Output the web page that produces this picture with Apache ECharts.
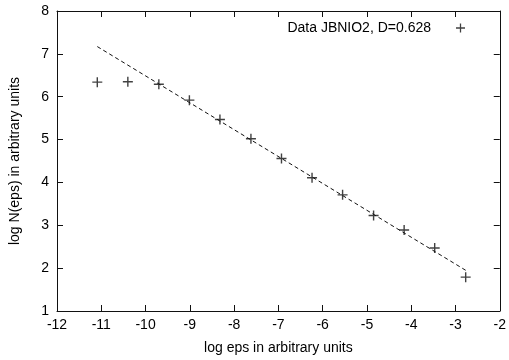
<!DOCTYPE html>
<html>
<head>
<meta charset="utf-8">
<script src="https://cdn.jsdelivr.net/npm/echarts@6/dist/echarts.min.js"></script>
<style>
  html, body { margin: 0; padding: 0; background: #fff; }
  #main { width: 509px; height: 360px; }
</style>
</head>
<body>
<div id="main"></div>
<script>
// log eps values (eps halving each step) and measured log N(eps)
var logEps = [-11.09, -10.40, -9.70, -9.01, -8.32, -7.62, -6.93, -6.24, -5.55, -4.85, -4.16, -3.47, -2.77];
var logN   = [6.34, 6.35, 6.29, 5.92, 5.47, 5.02, 4.56, 4.11, 3.71, 3.23, 2.89, 2.47, 1.79];
// fitted line, slope -0.628
var fitX = [-11.09, -2.77];
var fitY = [7.17, 1.95];
var legendName = 'Data JBNIO2, D=0.628';

var font = 'Liberation Sans, Arial, sans-serif';
var ink = '#111';
var plus = 'path://M4.3,0h1.4v10h-1.4z M0,4.3h10v1.4h-10z';

var myChart = echarts.init(document.getElementById('main'));

function axisBase(extra) {
  var a = {
    type: 'value',
    interval: 1,
    axisLine: { show: true, lineStyle: { color: ink, width: 1 } },
    axisTick: { show: true, inside: true, length: 6, lineStyle: { color: ink } },
    splitLine: { show: false },
    axisLabel: { color: '#000', fontFamily: font, fontSize: 14 }
  };
  for (var k in extra) a[k] = extra[k];
  return a;
}

myChart.setOption({
  animation: false,
  backgroundColor: '#fff',
  grid: { left: 50, right: 8, top: 11, bottom: 44 },
  legend: {
    right: 39,
    top: 16,
    align: 'right',
    itemWidth: 9,
    itemHeight: 9,
    textStyle: { fontFamily: font, fontSize: 14, color: '#000', padding: [0, 20, 0, 0] },
    data: [{ name: legendName, icon: plus, itemStyle: { color: ink } }]
  },
  xAxis: [
    axisBase({
      min: -12, max: -2, position: 'bottom',
      name: 'log eps in arbitrary units',
      nameLocation: 'middle', nameGap: 30,
      nameTextStyle: { fontFamily: font, fontSize: 14, color: '#000' },
      axisLabel: { color: '#000', fontFamily: font, fontSize: 14, margin: 7 }
    }),
    axisBase({ min: -12, max: -2, position: 'top', axisLabel: { show: false } })
  ],
  yAxis: [
    axisBase({
      min: 1, max: 8, position: 'left',
      name: 'log N(eps) in arbitrary units',
      nameLocation: 'middle', nameGap: 35,
      nameTextStyle: { fontFamily: font, fontSize: 14, color: '#000' },
      axisLabel: { color: '#000', fontFamily: font, fontSize: 14, margin: 8 }
    }),
    axisBase({ min: 1, max: 8, position: 'right', axisLabel: { show: false } })
  ],
  series: [
    {
      name: legendName,
      type: 'scatter',
      symbol: plus,
      symbolSize: 10,
      itemStyle: { color: ink },
      data: logEps.map(function (x, i) { return [x, logN[i]]; })
    },
    {
      name: 'fit',
      type: 'line',
      showSymbol: false,
      symbol: 'none',
      lineStyle: { color: ink, width: 1, type: [4, 3] },
      data: fitX.map(function (x, i) { return [x, fitY[i]]; })
    }
  ]
});
</script>
</body>
</html>
